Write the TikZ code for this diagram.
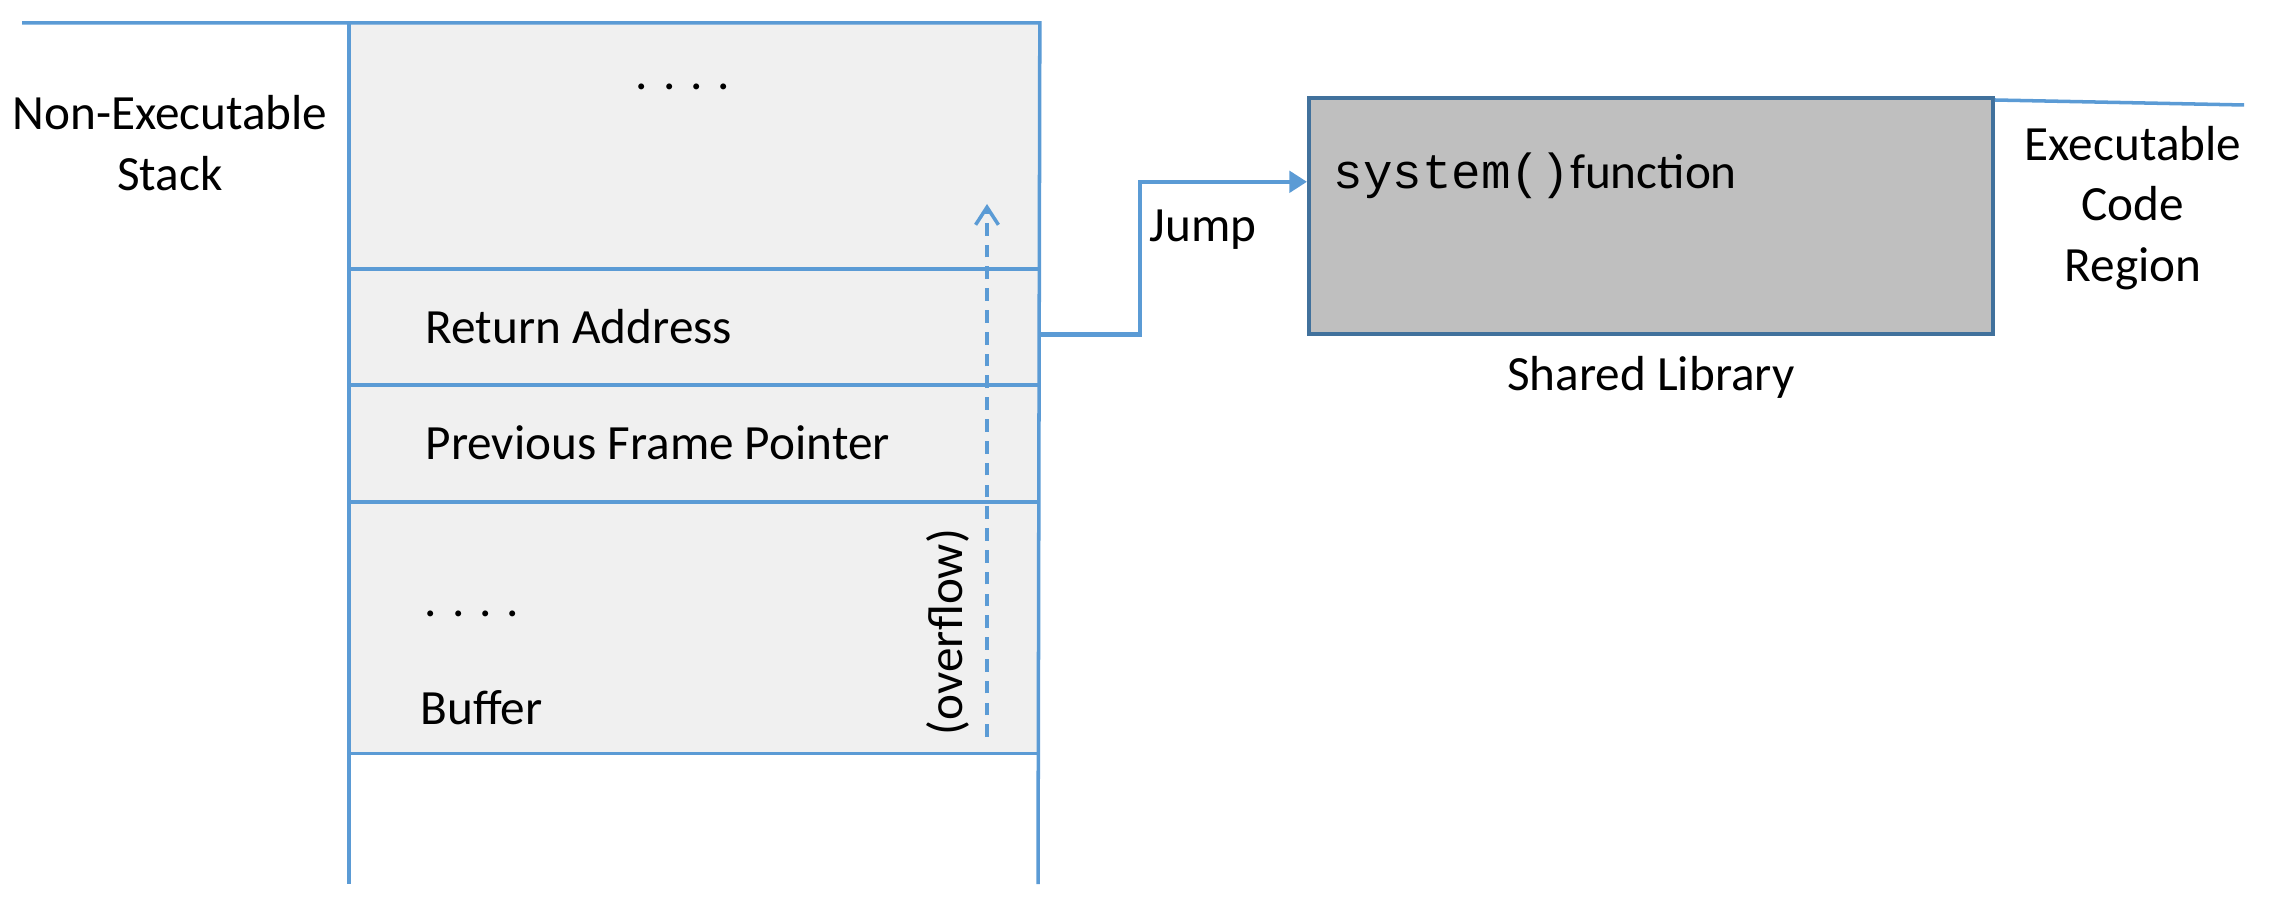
\documentclass[tikz,border=0pt]{standalone}
\usepackage{fontspec}
\setmainfont{Carlito}
\newfontfamily\codefont{Liberation Mono}
\usetikzlibrary{arrows.meta,positioning}
\definecolor{stackblue}{HTML}{5B9BD5}
\definecolor{stackfill}{HTML}{F0F0F0}
\definecolor{libfill}{HTML}{BFBFBF}
\definecolor{libedge}{HTML}{41719C}

\begin{document}
\begin{tikzpicture}[x=0.01cm, y=-0.01cm,
    wall/.style={draw=stackblue, line width=1pt},
    cell/.style={fill=stackfill, anchor=north west, minimum width=6.89cm, inner sep=0pt},
    lbl/.style={font=\fontsize{14}{17.3}\selectfont, inner sep=0pt}]
    \useasboundingbox (0,0) rectangle (2280,913);

    % Stack frame
    \node[cell, minimum height=2.46cm] (frame-top) at (349,23) {};
    \node[cell, minimum height=1.16cm] (frame-ret) at (349,269) {};
    \node[cell, minimum height=1.17cm] (frame-prev) at (349,385) {};
    \node[cell, minimum height=2.50cm] (frame-buf) at (349,502) {};

    \coordinate (stack-tl) at (22,23);
    \coordinate (stack-bl) at (349,884);
    \coordinate (stack-br) at (1038,884);
    \draw[wall] (stack-tl) -- (frame-top.north east) -- (stack-br);
    \draw[wall] (frame-top.north west) -- (stack-bl);
    \draw[wall] (frame-ret.north west) -- (frame-ret.north east);
    \draw[wall] (frame-prev.north west) -- (frame-prev.north east);
    \draw[wall] (frame-buf.north west) -- (frame-buf.north east);
    \draw[wall] (frame-buf.south west) -- (frame-buf.south east);

    \node[lbl, align=center] (nonexec) at (170,143) {Non-Executable\\Stack};
    \node[lbl] (dots-top) at (683,87) {. . . .};
    \node[lbl, anchor=west] (ret-lbl) at (425,327) {Return Address};
    \node[lbl, anchor=west] (prev-lbl) at (425,443) {Previous Frame Pointer};
    \node[lbl] (dots-buf) at (472,614) {. . . .};
    \node[lbl, anchor=west] (buf-lbl) at (420,708) {Buffer};
    \node[lbl, rotate=90] (overflow) at (948,632) {(overflow)};

    % Overflow direction
    \coordinate (ov-start) at (987,737);
    \coordinate (ov-end) at (987,204);
    \draw[wall, dash pattern=on 3.6pt off 2.6pt, -{Straight Barb[length=5pt, width=6.5pt]}] (ov-start) -- (ov-end);

    % Shared library
    \node[draw=libedge, fill=libfill, line width=1pt, anchor=north west, inner sep=0pt,
          minimum width=6.84cm, minimum height=2.36cm] (lib) at (1307,96) {};
    \node[lbl, anchor=west] (sys-lbl) at (1333,176) {{\codefont system()}function};
    \node[lbl, below=0.2cm of lib] (lib-lbl) {Shared Library};
    \coordinate (exec-end) at (2244,105);
    \draw[wall] ([yshift=-0.04cm]lib.north east) -- (exec-end);
    \node[lbl, align=center] (exec-lbl) at (2133,208) {Executable\\Code\\Region};

    % Jump
    \coordinate (jump-tip) at ([yshift=0.34cm]lib.west);
    \draw[wall, line width=1.3pt, -{Triangle[length=5pt, width=6pt]}] ([yshift=-0.07cm]frame-ret.east) -- ++(100,0) |- (jump-tip);
    \node[lbl, anchor=west] (jump-lbl) at (1149,230) {Jump};
\end{tikzpicture}
\end{document}
